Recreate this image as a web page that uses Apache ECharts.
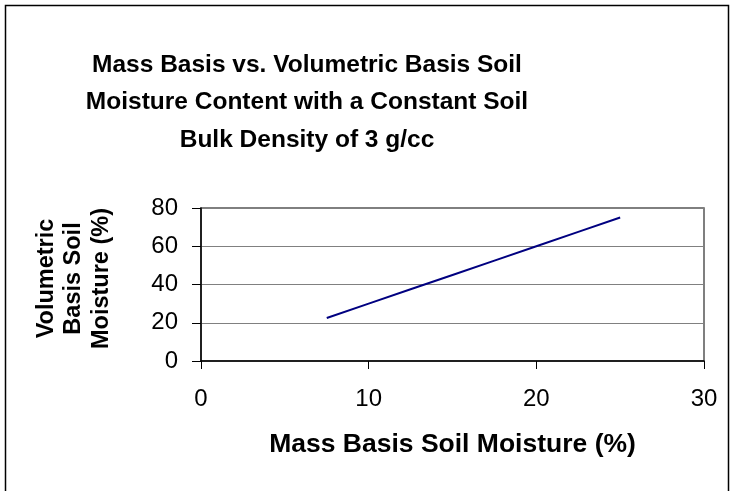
<!DOCTYPE html>
<html>
<head>
<meta charset="utf-8">
<script src="https://cdn.jsdelivr.net/npm/echarts@6/dist/echarts.min.js"></script>
<style>
  html, body { margin: 0; padding: 0; background: #fff; }
  #chart { width: 734px; height: 491px; }
</style>
</head>
<body>
<div id="chart"></div>
<script>
// mass basis moisture (%) and volumetric basis moisture (%)
const massMoisture = [7.5, 10, 12.5, 15, 17.5, 20, 22.5, 25];
const volMoisture = [22.5, 30, 37.5, 45, 52.5, 60, 67.5, 75];
const xTicks = [0, 10, 20, 30];
const yTicks = [0, 20, 40, 60, 80];

const font = 'Liberation Sans, Arial, sans-serif';
const chart = echarts.init(document.getElementById('chart'));

chart.setOption({
  animation: false,
  title: {
    text: 'Mass Basis vs. Volumetric Basis Soil\nMoisture Content with a Constant Soil\nBulk Density of 3 g/cc',
    left: 302,
    top: 41,
    textAlign: 'center',
    textStyle: {
      fontFamily: font,
      fontWeight: 'bold',
      fontSize: 24.5,
      lineHeight: 37.5,
      color: '#000'
    }
  },
  graphic: [{
    type: 'rect',
    shape: { x: 5.5, y: 5.5, width: 723, height: 500 },
    style: { fill: null, stroke: '#000', lineWidth: 1.5 },
    silent: true
  }],
  grid: {
    left: 201,
    right: 30,
    top: 208,
    bottom: 130,
    show: true,
    borderColor: '#555',
    borderWidth: 1.5
  },
  xAxis: {
    type: 'value',
    min: xTicks[0],
    max: xTicks[xTicks.length - 1],
    interval: 10,
    name: 'Mass Basis Soil Moisture (%)',
    nameLocation: 'middle',
    nameGap: 70,
    nameTextStyle: { fontFamily: font, fontWeight: 'bold', fontSize: 26.5, color: '#000' },
    axisLine: { show: true, lineStyle: { color: '#000', width: 1.5 } },
    axisTick: { show: true, length: 8, lineStyle: { color: '#000', width: 1 } },
    axisLabel: { margin: 26, fontFamily: font, fontSize: 24, color: '#000' },
    splitLine: { show: false }
  },
  yAxis: {
    type: 'value',
    min: yTicks[0],
    max: yTicks[yTicks.length - 1],
    interval: 20,
    name: 'Volumetric\nBasis Soil\nMoisture (%)',
    nameLocation: 'middle',
    nameRotate: 90,
    nameGap: 86,
    nameTextStyle: {
      fontFamily: font, fontWeight: 'bold', fontSize: 23.5, lineHeight: 27.5,
      color: '#000', padding: [0, 0, 0, 12]
    },
    axisLine: { show: true, lineStyle: { color: '#000', width: 1.5 } },
    axisTick: { show: true, length: 9, lineStyle: { color: '#000', width: 1 } },
    axisLabel: { margin: 23, fontFamily: font, fontSize: 24, color: '#000' },
    splitLine: { show: true, lineStyle: { color: '#808080', width: 1 } }
  },
  series: [{
    type: 'line',
    data: massMoisture.map((m, i) => [m, volMoisture[i]]),
    showSymbol: false,
    lineStyle: { color: '#000080', width: 2 },
    itemStyle: { color: '#000080' }
  }]
});
</script>
</body>
</html>
